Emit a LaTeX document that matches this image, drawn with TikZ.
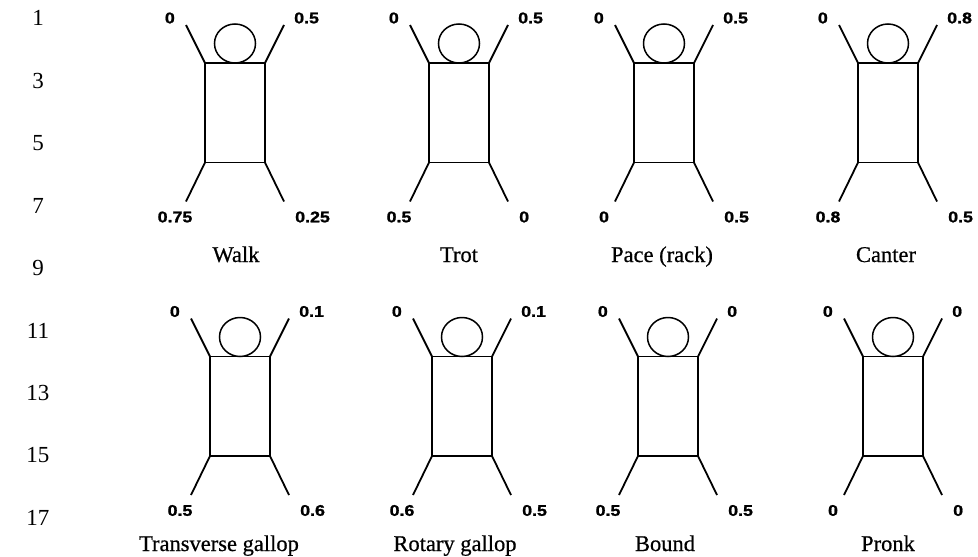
\documentclass[tikz,border=0pt]{standalone}
\usepackage{fontspec}
\setmainfont{Liberation Serif}
\newfontfamily\phasefont[FakeStretch=1.15, BoldFeatures={FakeBold=1.2}]{Liberation Sans}
\newfontfamily\gaitfont[FakeBold=0.6]{Liberation Serif}
\usetikzlibrary{shapes.geometric,calc}

\tikzset{
  stickbody/.style={draw, rectangle, minimum width=60pt, minimum height=99.5pt,
    inner sep=0pt, outer sep=0pt, line width=1.9pt},
  stickhead/.style={draw, ellipse, minimum width=41pt, minimum height=39pt,
    inner sep=0pt, outer sep=0pt, line width=1.5pt},
  limb/.style={line width=1.8pt},
  phase/.style={font=\phasefont\bfseries\fontsize{15.5}{15.5}\selectfont, inner sep=0pt},
  gaitname/.style={font=\gaitfont\fontsize{22.5}{22.5}\selectfont, inner sep=0pt, anchor=base},
  lineno/.style={font=\fontsize{23}{23}\selectfont, inner sep=0pt},
}

% Stick figure of a quadruped seen from above, with the phase of each leg.
% #1 name, #2 centre x, #3 top of the body,
% #4 left fore, #5 right fore, #6 left hind, #7 right hind
\newcommand{\gaitfigure}[7]{%
  \node[stickbody] (#1-body) at (#2, #3+49.75) {};
  \node[stickhead] (#1-head) at (#2, #3-19.5) {};
  \coordinate (#1-lf) at ($(#1-body.north west)+(-19,-38)$);
  \coordinate (#1-rf) at ($(#1-body.north east)+(19,-38)$);
  \coordinate (#1-lh) at ($(#1-body.south west)+(-19,39)$);
  \coordinate (#1-rh) at ($(#1-body.south east)+(19,39)$);
  \draw[limb] (#1-body.north west) -- (#1-lf);
  \draw[limb] (#1-body.north east) -- (#1-rf);
  \draw[limb] (#1-body.south west) -- (#1-lh);
  \draw[limb] (#1-body.south east) -- (#1-rh);
  \node[phase, anchor=east] (#1-lf-phase) at (#2-60, #3-45) {#4};
  \node[phase, anchor=west] (#1-rf-phase) at (#2+59, #3-45) {#5};
  \node[phase] (#1-lh-phase) at (#2-60, #3+154) {#6};
  \node[phase, anchor=west] (#1-rh-phase) at (#2+60, #3+154) {#7};
}

\begin{document}
\begin{tikzpicture}[x=1pt, y=-1pt]
  \fill[white] (0,0) rectangle (978,557);
  \useasboundingbox (0,0) rectangle (978,557);

  % line numbers down the margin
  \foreach \n [count=\k from 0] in {1,3,5,7,9,11,13,15,17}
    \node[lineno] (line\n) at (38, 18+62.5*\k) {\n};

  % upper row
  \gaitfigure{walk}{235}{63}{0}{0.5}{0.75}{0.25}
  \gaitfigure{trot}{459}{63}{0}{0.5}{0.5}{0}
  \gaitfigure{pace}{664}{63}{0}{0.5}{0}{0.5}
  \gaitfigure{canter}{888}{63}{0}{0.8}{0.8}{0.5}
  \node[gaitname] (walk-name) at (236, 262) {Walk};
  \node[gaitname] (trot-name) at (459, 262) {Trot};
  \node[gaitname] (pace-name) at (662, 262) {Pace (rack)};
  \node[gaitname] (canter-name) at (886, 262) {Canter};

  % lower row
  \gaitfigure{transverse}{240}{356.5}{0}{0.1}{0.5}{0.6}
  \gaitfigure{rotary}{462}{356.5}{0}{0.1}{0.6}{0.5}
  \gaitfigure{bound}{668}{356.5}{0}{0}{0.5}{0.5}
  \gaitfigure{pronk}{893}{356.5}{0}{0}{0}{0}
  \node[gaitname] (transverse-name) at (219, 551) {Transverse gallop};
  \node[gaitname] (rotary-name) at (455, 551) {Rotary gallop};
  \node[gaitname] (bound-name) at (665, 551) {Bound};
  \node[gaitname] (pronk-name) at (888, 551) {Pronk};
\end{tikzpicture}
\end{document}
